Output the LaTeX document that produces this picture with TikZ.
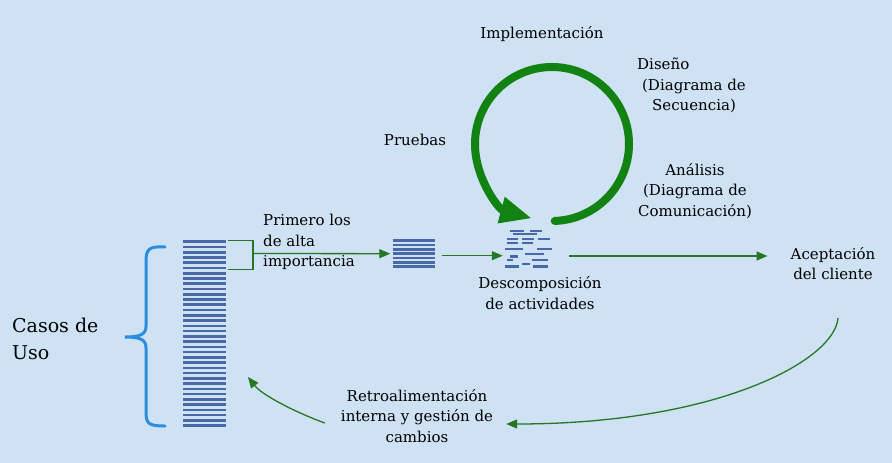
\documentclass[tikz,border=0pt]{standalone}
\usepackage{fontspec}
\setmainfont{DejaVu Serif}
\usetikzlibrary{positioning,arrows.meta}
\definecolor{fondo}{RGB}{207,226,243}
\definecolor{azulpila}{RGB}{72,104,168}
\definecolor{azulllave}{RGB}{43,140,224}
\definecolor{verdeciclo}{RGB}{18,130,18}
\definecolor{verdelinea}{RGB}{38,118,38}
\tikzset{
  texto/.style={inner sep=0pt, align=center, font=\fontsize{15}{20.5}\selectfont},
  flecha/.style={draw=verdelinea, line width=1.3pt, -{Triangle[length=11pt,width=9pt]}},
  renglon/.style={draw=azulpila, line width=2.6pt},
  tarea/.style={draw=azulpila, line width=2.2pt},
}

\begin{document}
\begin{tikzpicture}[x=1pt,y=-1pt]
  \fill[fondo] (0,0) rectangle (892,463);
  \useasboundingbox (0,0) rectangle (892,463);

  % pila de casos de uso
  \node[minimum width=42.5pt, minimum height=186pt, inner sep=0] (casos) at (204.5,333.7) {};
  \foreach \i in {0,...,35}
    \draw[renglon] (183.3,241.7+5.257*\i) -- ++(42.4,0);
  \node[texto, font=\fontsize{19}{27}\selectfont, align=left, anchor=west] (titulo) at (12,338.5) {Casos de\\Uso};
  \draw[azulllave, line width=3pt, line cap=round] (165,247) .. controls (149,246) and (146,249) .. (146,262)
    -- (146,326) .. controls (146,334) and (141,337) .. (125,337)
    .. controls (141,337) and (146,340) .. (146,348) -- (146,412)
    .. controls (146,424) and (149,426) .. (165,426);

  % primeros casos
  \draw[verdelinea, line width=1.3pt] ([xshift=2pt]casos.north east) -| ++(25,29) -- ++(-25,0);
  \coordinate (corchete) at ([shift={(27,13)}]casos.north east);
  \node[texto, align=left, anchor=west] (primero) at (263,242) {Primero los\\de alta\\importancia};
  \node[minimum width=43pt, minimum height=28pt, inner sep=0] (lote) at (414,253.7) {};
  \foreach \i in {0,...,6}
    \draw[renglon] (392.7,240.7+4.33*\i) -- ++(42.3,0);
  \draw[flecha, shorten >=2pt] (corchete) -- (lote.west);

  % actividades
  \node[minimum width=51pt, minimum height=40pt, inner sep=0] (tareas) at (528.5,248) {};
  \foreach \xa/\xb/\y in {510/524/231, 530/542/231, 513/537/234.3,
      507/518/238.7, 522/534/238.7, 538/550/238.7, 507/518/242.7, 522/533/242.7,
      505/523/249.3, 537/552/249.3, 525/544/253.7, 510/518/256.5,
      507/513/260.3, 532/548/260.3, 522/530/263.7, 505/519/266.5, 533/548/266.5}
    \draw[tarea] (\xa,\y) -- (\xb,\y);
  \draw[flecha] ([shift={(6,2)}]lote.east) -- ([shift={(0,7.7)}]tareas.west);
  \node[texto] (desc) at (540,293) {Descomposición\\de actividades};

  % ciclo de la iteracion
  \coordinate (ciclo) at (552,144);
  \draw[verdeciclo, line width=8pt, line cap=round, -{Triangle[length=32pt,width=25pt]}]
    (ciclo) ++(88:77) arc[start angle=88, end angle=-255, radius=77];
  \node[texto] (impl) at (542,34) {Implementación};
  \node[texto] (pruebas) at (415,140) {Pruebas};
  \node[texto, anchor=west] (diseno) at (637,64) {Diseño};
  \node[texto] (secuencia) at (694,96) {(Diagrama de\\Secuencia)};
  \node[texto] (analisis) at (695,191) {Análisis\\(Diagrama de\\Comunicación)};

  % aceptacion y retroalimentacion
  \node[texto] (acept) at (833,263.5) {Aceptación\\del cliente};
  \coordinate (salida) at ([shift={(15,8)}]tareas.east);
  \draw[flecha, shorten >=23pt] (salida) -- (salida -| acept.west);
  \node[texto] (retro) at (417,416) {Retroalimentación\\interna y gestión de\\cambios};
  \coordinate (vuelta) at (838,318);
  \coordinate (regreso) at (248,377);
  \draw[flecha] (vuelta) .. controls +(-3,42) and +(212,0) .. ([shift={(13,8)}]retro.east);
  \draw[flecha] ([shift={(-16,7)}]retro.west) .. controls +(-30,-11) and +(14,18) .. (regreso);
\end{tikzpicture}
\end{document}
